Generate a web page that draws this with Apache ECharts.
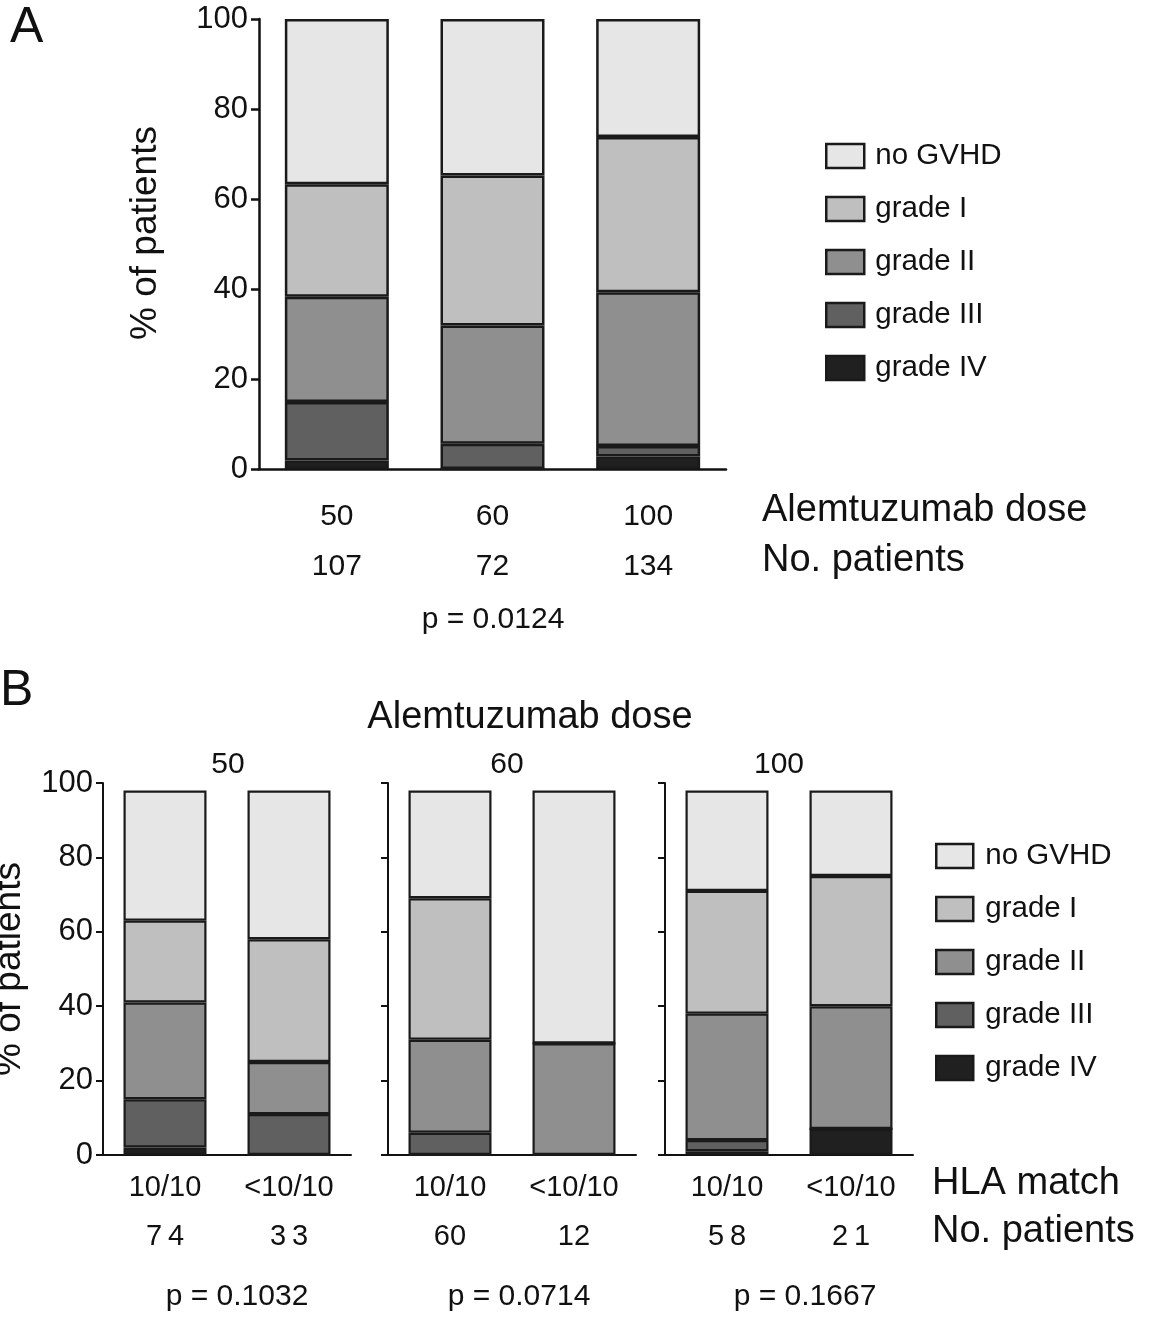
<!DOCTYPE html>
<html>
<head>
<meta charset="utf-8">
<script src="https://cdn.jsdelivr.net/npm/echarts@6/dist/echarts.min.js"></script>
<style>
html,body{margin:0;padding:0;background:#fff;}
#chart{width:1149px;height:1318px;}
</style>
</head>
<body>
<div id="chart"></div>
<script>
// ---------- DATA ----------
const gradeNames = ['no GVHD', 'grade I', 'grade II', 'grade III', 'grade IV'];
const gradeColors = ['#e6e6e6', '#bfbfbf', '#8f8f8f', '#606060', '#202020'];

// Panel A: Alemtuzumab dose 50 / 60 / 100
const doseA = ['50', '60', '100'];
const patientsA = ['107', '72', '134'];
const A_noGVHD = [36.7, 34.8, 26.2];
const A_gradeI = [25.0, 33.3, 34.5];
const A_gradeII = [23.4, 26.3, 34.2];
const A_gradeIII = [13.0, 5.6, 2.3];
const A_gradeIV = [1.9, 0, 2.8];
const pValueA = 'p = 0.0124';

// Panel B: bars in order 50-10/10, 50-<10/10, 60-10/10, 60-<10/10, 100-10/10, 100-<10/10
const doseB = ['50', '60', '100'];
const hlaB = ['10/10', '<10/10'];
const patientsB = ['7\u20094', '3\u20093', '60', '12', '5\u20098', '2\u20091'];
const B_noGVHD = [35, 40, 29, 68, 27, 23];
const B_gradeI = [22, 33, 38, 0, 33, 35];
const B_gradeII = [26, 14, 25, 30, 34, 33];
const B_gradeIII = [13, 11, 6, 0, 3, 0];
const B_gradeIV = [2, 0, 0, 0, 1, 7];
const pValuesB = ['p = 0.1032', 'p = 0.0714', 'p = 0.1667'];

// ---------- BUILD ----------
const FONT = '"Liberation Sans", Arial, Helvetica, sans-serif';
const INK = '#111';
const chart = echarts.init(document.getElementById('chart'), null, {renderer: 'canvas'});

const A_byGrade = [A_noGVHD, A_gradeI, A_gradeII, A_gradeIII, A_gradeIV];
const B_byGrade = [B_noGVHD, B_gradeI, B_gradeII, B_gradeIII, B_gradeIV];

const grids = [
  {left: 259, top: 19, width: 467, height: 450},
  {left: 103, top: 783, width: 248, height: 372},
  {left: 388, top: 783, width: 248, height: 372},
  {left: 665, top: 783, width: 248, height: 372}
].map(g => Object.assign({outerBoundsMode: 'none', containLabel: false}, g));

const xAxes = [{
  type: 'category', gridIndex: 0, data: doseA,
  axisLine: {lineStyle: {color: INK, width: 2.5}},
  axisTick: {alignWithLabel: true, length: 7, lineStyle: {color: INK, width: 2.5}},
  axisLabel: {
    margin: 23, fontSize: 30, fontFamily: FONT, color: INK, lineHeight: 50,
    formatter: (v, i) => v + '\n' + patientsA[i]
  }
}];
for (let g = 0; g < 3; g++) {
  xAxes.push({
    type: 'category', gridIndex: g + 1, data: hlaB,
    axisLine: {lineStyle: {color: INK, width: 2}},
    axisTick: {alignWithLabel: true, length: 6, lineStyle: {color: INK, width: 2}},
    axisLabel: {
      margin: 8, fontSize: 29, fontFamily: FONT, color: INK, lineHeight: 49,
      formatter: (v, i) => v + '\n' + patientsB[g * 2 + i]
    }
  });
}

const yAxes = [{
  type: 'value', gridIndex: 0, min: 0, max: 100, interval: 20,
  axisLine: {show: true, lineStyle: {color: INK, width: 2.5}},
  axisTick: {show: true, length: 8, lineStyle: {color: INK, width: 2.5}},
  axisLabel: {margin: 11, fontSize: 31, fontFamily: FONT, color: INK},
  splitLine: {show: false}
}];
for (let g = 0; g < 3; g++) {
  yAxes.push({
    type: 'value', gridIndex: g + 1, min: 0, max: 100, interval: 20,
    axisLine: {show: true, lineStyle: {color: INK, width: 2}},
    axisTick: {show: true, length: 7, lineStyle: {color: INK, width: 2}},
    axisLabel: {show: g === 0, margin: 10, fontSize: 31, fontFamily: FONT, color: INK},
    splitLine: {show: false}
  });
}

const series = [];
// stack from bottom: grade IV -> no GVHD
for (let k = 4; k >= 0; k--) {
  series.push({
    name: gradeNames[k], type: 'bar', stack: 'A', xAxisIndex: 0, yAxisIndex: 0,
    data: A_byGrade[k], barWidth: 104,
    itemStyle: {color: gradeColors[k], borderColor: '#1a1a1a', borderWidth: 2.5},
    emphasis: {disabled: true}
  });
}
for (let g = 0; g < 3; g++) {
  for (let k = 4; k >= 0; k--) {
    series.push({
      name: gradeNames[k], type: 'bar', stack: 'B' + g, xAxisIndex: g + 1, yAxisIndex: g + 1,
      data: B_byGrade[k].slice(g * 2, g * 2 + 2), barWidth: 83,
      itemStyle: {color: gradeColors[k], borderColor: '#1a1a1a', borderWidth: 2.2},
      emphasis: {disabled: true}
    });
  }
}

const legendCommon = {
  data: gradeNames, orient: 'vertical', icon: 'rect', selectedMode: false,
  itemWidth: 38, itemHeight: 24, itemGap: 23,
  itemStyle: {borderColor: '#1a1a1a', borderWidth: 2.5},
  textStyle: {fontSize: 29.5, fontFamily: FONT, color: INK, padding: [0, 0, 0, 6]}
};

function txt(text, x, y, size, align, rot) {
  return {
    type: 'text', x: x, y: y, rotation: rot || 0,
    style: {text: text, fontSize: size, fontFamily: FONT, fill: INK,
            align: align || 'center', verticalAlign: 'middle'}
  };
}

const graphics = [
  txt('A', 10, 28, 50, 'left'),
  txt('% of patients', 146, 233, 37, 'center', Math.PI / 2),
  txt('Alemtuzumab dose', 762, 511, 38, 'left'),
  txt('No. patients', 762, 561, 38, 'left'),
  txt(pValueA, 493, 620, 30, 'center'),
  txt('B', 0, 691, 50, 'left'),
  txt('Alemtuzumab dose', 530, 718, 38, 'center'),
  txt(doseB[0], 228, 765, 30, 'center'),
  txt(doseB[1], 507, 765, 30, 'center'),
  txt(doseB[2], 779, 765, 30, 'center'),
  txt('% of patients', 10, 969, 37, 'center', Math.PI / 2),
  txt('HLA match', 932, 1184, 38, 'left'),
  txt('No. patients', 932, 1232, 38, 'left'),
  txt(pValuesB[0], 237, 1297, 30, 'center'),
  txt(pValuesB[1], 519, 1297, 30, 'center'),
  txt(pValuesB[2], 805, 1297, 30, 'center')
];

chart.setOption({
  backgroundColor: '#ffffff',
  animation: false,
  grid: grids,
  xAxis: xAxes,
  yAxis: yAxes,
  series: series,
  legend: [
    Object.assign({left: 820, top: 136}, legendCommon),
    Object.assign({left: 930, top: 836}, legendCommon, {
      textStyle: {fontSize: 29.5, fontFamily: FONT, color: INK, padding: [0, 0, 0, 7]},
      itemWidth: 37
    })
  ],
  graphic: graphics
});
</script>
</body>
</html>
